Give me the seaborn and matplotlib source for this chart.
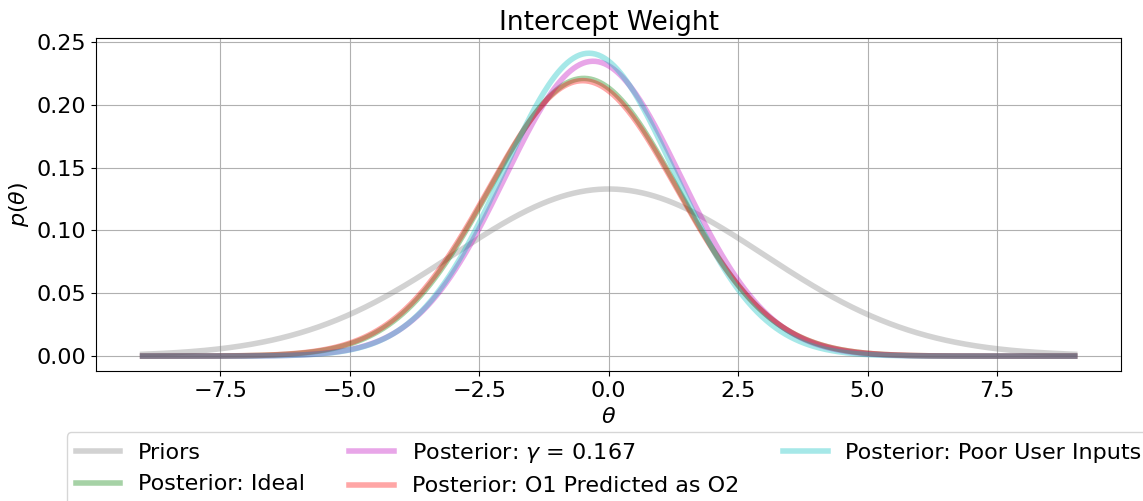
import numpy as np
import pandas as pd
import matplotlib
matplotlib.use("Agg")
import matplotlib.pyplot as plt
import seaborn as sns

# distributions (normal: mean, std)
labels = ["Priors", "Posterior: Ideal", r"Posterior: $\gamma$ = 0.167",
          "Posterior: O1 Predicted as O2", "Posterior: Poor User Inputs"]
means = [0.0, -0.48, -0.3, -0.5, -0.38]
stds = [3.0, 1.805, 1.70, 1.82, 1.655]
colors = ["gray", "g", "m", "r", "c"]

theta = np.linspace(-9, 9, 600)

frames = []
for lab, mu, sd in zip(labels, means, stds):
    pdf = np.exp(-0.5 * ((theta - mu) / sd) ** 2) / (sd * np.sqrt(2 * np.pi))
    frames.append(pd.DataFrame({"theta": theta, "p": pdf, "dist": lab}))
df = pd.concat(frames, ignore_index=True)

fig = plt.figure(figsize=(11.43, 5.01), dpi=100)
ax = fig.add_axes([0.084, 0.259, 0.897, 0.665])

for lab, col in zip(labels, colors):
    sub = df[df["dist"] == lab]
    sns.lineplot(data=sub, x="theta", y="p", color=col, alpha=0.35,
                 linewidth=4, label=lab, ax=ax)

ax.grid(True)
ax.set_axisbelow(True)
ax.set_title("Intercept Weight", fontsize=19)
ax.set_xlabel(r"$\theta$", fontsize=16)
ax.set_ylabel(r"$p(\theta)$", fontsize=16)
ax.tick_params(labelsize=16)
ax.legend(loc="upper center", bbox_to_anchor=(0.5, -0.15), ncol=3,
          fontsize=16)

plt.savefig("out.png", dpi=100)
